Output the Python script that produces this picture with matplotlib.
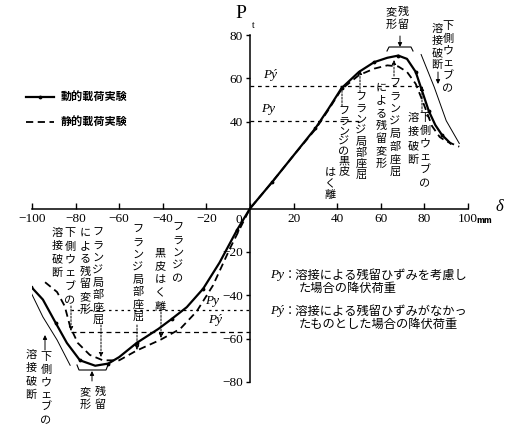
import matplotlib
matplotlib.use("Agg")
import matplotlib.pyplot as plt
from matplotlib.lines import Line2D

JP = ['Noto Sans CJK JP', 'DejaVu Sans']
SERIF = 'Liberation Serif'
W, H = 513, 429

# load P (t) vs displacement delta (mm)
dyn_x = [-100.5, -95, -89, -84, -78, -71, -65, -60, -52, -42, -36, -29, -21.5, -14, -6, 0,
         10, 20, 30, 36, 42, 50, 57, 63, 68, 72, 76, 79, 82, 85, 88, 92]
dyn_y = [-36, -42, -53, -62, -70, -72.5, -71.5, -68.5, -62, -55.5, -51, -45.5, -37, -25, -10, 0,
         12, 24.5, 37, 46, 55.5, 63, 67.5, 69.5, 70.5, 69, 63, 54, 45, 38.5, 34, 30]
sta_x = [-94, -88.5, -85, -82.5, -79, -73.5, -67.5, -60, -52, -41, -32, -24.5, -17, -9, 0,
         10, 20, 30, 36, 42, 50, 57, 63, 68, 72, 76, 79, 83.5, 87, 90, 96]
sta_y = [-34, -38.5, -45, -54.5, -62, -67.5, -70, -70, -65.5, -60.5, -55.5, -47.5, -35.5, -18, 0,
         12, 24.5, 36.5, 45.5, 55, 61.5, 64.5, 66, 65.5, 63, 57.5, 50, 38, 33, 31, 28.5]

# web weld fracture guide lines
brk_pos_x = [78.5, 84.5, 90, 96]
brk_pos_y = [71, 56, 40.5, 30]
brk_neg_x = [-101, -95, -88.5, -82.5]
brk_neg_y = [-37.6, -50, -60.6, -72.3]

# yield loads
py_pos, pyd_pos = 40.5, 56.5
py_neg, pyd_neg = -47, -57

xticks = [-100, -80, -60, -40, -20, 0, 20, 40, 60, 80, 100]
yticks = [-80, -60, -40, -20, 40, 60, 80]

fig = plt.figure(figsize=(W / 100, H / 100), dpi=100)
ax = fig.add_axes([32 / W, 47 / H, 436 / W, 347 / H])
ax.set_xlim(-100, 100)
ax.set_ylim(-80, 80)

for s in ['top', 'right']:
    ax.spines[s].set_visible(False)
ax.spines['left'].set_position(('data', 0))
ax.spines['bottom'].set_position(('data', 0))
ax.spines['left'].set_linewidth(1.1)
ax.spines['bottom'].set_linewidth(1.1)

ax.set_xticks(xticks)
ax.set_xticklabels(['' if v == 0 else f"{v}".replace('-', '\u2212') for v in xticks],
                   family=SERIF, fontsize=9.5)
ax.set_yticks(yticks)
ax.set_yticklabels([f"{v}".replace('-', '\u2212') for v in yticks], family=SERIF, fontsize=9.5)
ax.tick_params(axis='x', direction='in', length=4, width=1, pad=3)
ax.tick_params(axis='y', direction='out', length=3, width=1, pad=2)
ax.text(-5, -2.5, '0', family=SERIF, fontsize=9.5, ha='center', va='top')
ax.text(107.5, -3.4, 'mm', family='DejaVu Sans', fontsize=5.5, weight='bold', ha='center', va='top')

# yield lines
ax.plot([0, 50], [py_pos, py_pos], color='k', lw=0.9, ls=(0, (3, 3)))
ax.plot([0, 79], [pyd_pos, pyd_pos], color='k', lw=0.9, ls=(0, (3, 3)))
ax.plot([-82, 0], [py_neg, py_neg], color='k', lw=0.9, ls=(0, (2, 3)))
ax.plot([-82, 0], [pyd_neg, pyd_neg], color='k', lw=0.9, ls=(0, (4, 3)))

ax.plot(dyn_x, dyn_y, color='k', lw=1.6, marker='.', ms=3.5, markevery=2,
        label='動的載荷実験')
ax.plot(sta_x, sta_y, color='k', lw=1.3, ls=(0, (4, 2.5)), label='静的載荷実験')
ax.plot(brk_pos_x, brk_pos_y, color='k', lw=0.7)
ax.plot(brk_neg_x, brk_neg_y, color='k', lw=0.7)

leg = fig.legend(loc='upper left', bbox_to_anchor=(16 / W, 1 - 81 / H), frameon=False,
                 handlelength=2.5, handletextpad=0.6, labelspacing=1.1,
                 prop={'family': JP, 'size': 8, 'weight': 'bold'})


def F(x, y):
    return (x / W, 1 - y / H)


def txt(x, y, s, size=8.5, family=JP, **kw):
    fig.text(x / W, 1 - y / H, s, fontsize=size, family=family, **kw)


def vcol(x, y0, s, pitch=12.5, size=8.0):
    for i, ch in enumerate(s):
        txt(x, y0 + i * pitch, ch, size=size, ha='center', va='center')


def arrow(x, y1, y2, dashed=True):
    ax.annotate('', xy=F(x, y2), xytext=F(x, y1), xycoords='figure fraction',
                textcoords='figure fraction',
                arrowprops=dict(arrowstyle='-|>', lw=0.7, color='k', mutation_scale=6,
                                ls=(0, (2, 1.5)) if dashed else '-', shrinkA=0, shrinkB=0))


def bracket(x1, x2, y, dy):
    pts_x = [x1, x1 + 2, x2 - 2, x2]
    pts_y = [y + dy, y, y, y + dy]
    fig.add_artist(Line2D([p / W for p in pts_x], [1 - p / H for p in pts_y],
                          color='k', lw=0.8))


# axis names
txt(241, 13, 'P', size=14, family=SERIF, ha='center', va='center')
txt(253, 25, 't', size=7, family=SERIF, ha='center', va='center')
txt(499, 207, 'δ', size=12, family=SERIF, style='italic', ha='center', va='center')

# Py labels near dashed lines
txt(270, 75, 'Pý', size=9.5, family=SERIF, style='italic', ha='center', va='center')
txt(268, 109, 'Py', size=9.5, family=SERIF, style='italic', ha='center', va='center')
txt(212, 301, 'Py', size=9.5, family=SERIF, style='italic', ha='center', va='center')
txt(215, 320, 'Pý', size=9.5, family=SERIF, style='italic', ha='center', va='center')

# right-hand notes
txt(277, 275, 'Py', size=9.5, family=SERIF, style='italic', ha='center', va='center')
txt(284, 275, '：溶接による残留ひずみを考慮し', size=8.8, ha='left', va='center')
txt(299, 288, 'た場合の降伏荷重', size=8.8, ha='left', va='center')
txt(277, 311, 'Pý', size=9.5, family=SERIF, style='italic', ha='center', va='center')
txt(284, 311, '：溶接による残留ひずみがなかっ', size=8.8, ha='left', va='center')
txt(299, 324, 'たものとした場合の降伏荷重', size=8.8, ha='left', va='center')

# positive side notes
vcol(344, 112, 'フランジの黒皮', pitch=9.8)
vcol(330, 173, 'はく離', pitch=11)
arrow(342, 106, 85)
vcol(361, 98, 'フランジ局部座屈', pitch=11)
arrow(360, 92, 70)
vcol(395, 84, 'フランジ局部座屈', pitch=12.6)
vcol(381, 88, 'による残留変形', pitch=12.6)
arrow(394, 76, 60)
vcol(403, 12, '残留', pitch=13)
vcol(391, 12, '変形', pitch=13)
arrow(400, 36, 47, dashed=False)
bracket(387, 413, 47, 4)
vcol(448, 26, '下側ウェブの', pitch=12.4)
vcol(437, 29, '溶接破断', pitch=12)
arrow(438, 72, 84, dashed=False)
vcol(425, 118, '下側ウェブの', pitch=13)
vcol(413, 118, '溶接破断', pitch=14)
arrow(422, 112, 86)

# negative side notes
vcol(178, 228, 'フランジの', pitch=12.5)
vcol(160, 253, '黒皮はく離', pitch=13.5)
arrow(161, 312, 338)
vcol(138, 230, 'フランジ局部座屈', pitch=12.4)
arrow(137, 325, 350)
vcol(98, 233, 'フランジ局部座屈', pitch=12.4)
vcol(85, 233, 'による残留変形', pitch=12.8)
arrow(101, 325, 357)
vcol(70, 233, '下側ウェブの', pitch=13.4)
vcol(57, 233, '溶接破断', pitch=13.3)
arrow(71, 306, 331)
vcol(46, 357, '下側ウェブの', pitch=12.6)
vcol(31, 355, '溶接破断', pitch=13.3)
arrow(45, 350, 335, dashed=False)
bracket(77, 108, 370, -5)
arrow(92, 381, 371, dashed=False)
vcol(100, 392, '残留', pitch=13)
vcol(85, 392, '変形', pitch=13)

fig.savefig('out.png', dpi=100)
